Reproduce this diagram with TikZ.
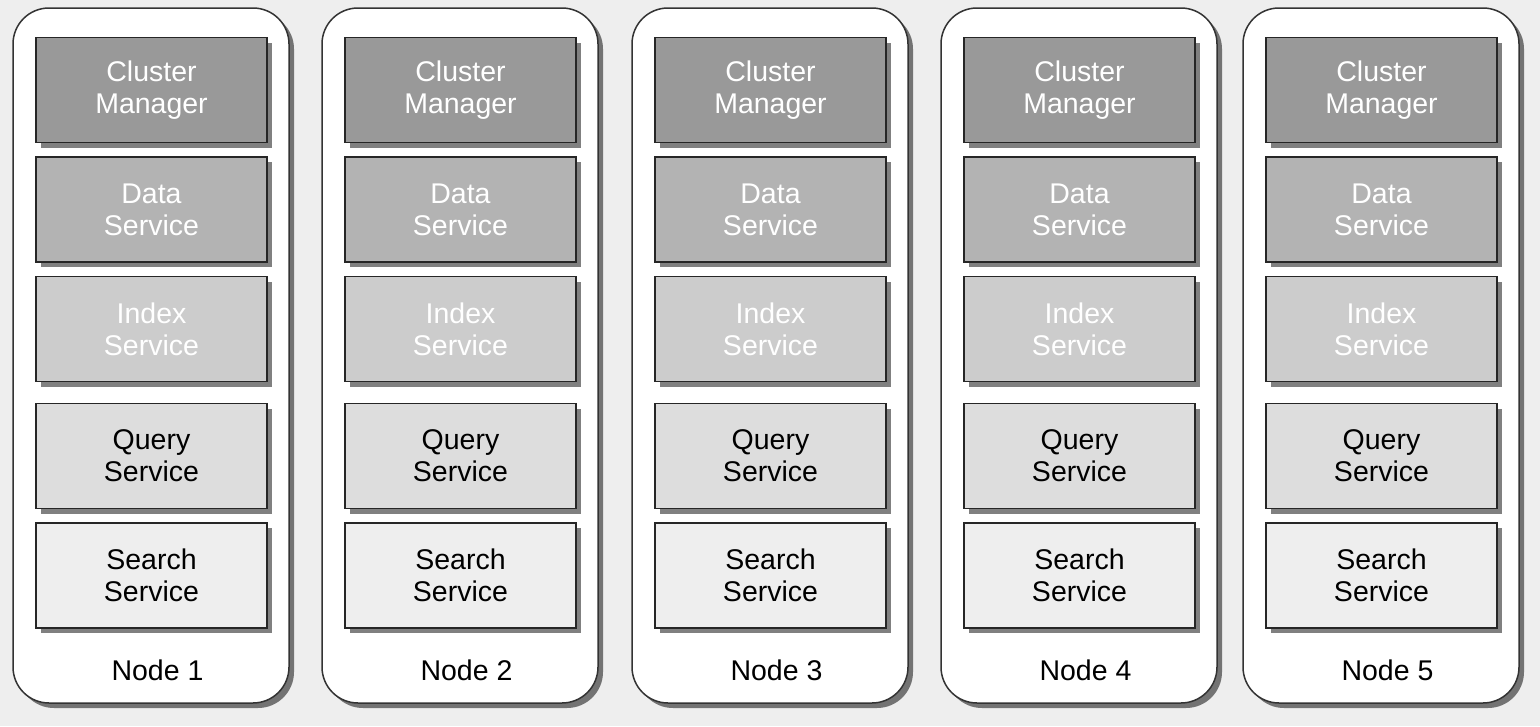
\documentclass[tikz,border=0pt]{standalone}
\usepackage{fontspec}
\setmainfont{Liberation Sans}
\usepackage{tikz}
\usetikzlibrary{shadows}
\usepackage{xcolor}
\definecolor{bggray}{HTML}{EEEEEE}
\definecolor{cmgray}{HTML}{999999}
\definecolor{dsgray}{HTML}{B3B3B3}
\definecolor{ixgray}{HTML}{CCCCCC}
\definecolor{qsgray}{HTML}{DDDDDD}
\definecolor{ssgray}{HTML}{EEEEEE}
\newcommand{\svcfont}{\fontsize{28.5}{32}\selectfont}
\tikzset{
  machine/.style={draw=black!80,line width=1.5pt,fill=white,rounded corners=36pt,
    minimum width=276pt,minimum height=695pt,inner sep=0pt,
    drop shadow={shadow xshift=5pt,shadow yshift=-5pt,fill=black!55,opacity=1}},
  svc/.style={draw=black!85,line width=1.3pt,minimum width=231pt,minimum height=105pt,
    inner sep=0pt,align=center,font=\svcfont,
    drop shadow={shadow xshift=5pt,shadow yshift=-5pt,fill=black!50,opacity=1}},
  lbl/.style={font=\svcfont,inner sep=0pt}
}
\begin{document}
\begin{tikzpicture}[x=1pt,y=-1pt]
    \fill[bggray] (0,0) rectangle (1540,726);
    \useasboundingbox (0,0) rectangle (1540,726);
    \foreach \x/\n in {13/1,322/2,632/3,941/4,1243/5} {
      \node[machine] (node\n) at (\x+138,355.5) {};
      \node[svc,fill=cmgray,text=white] (cm\n) at (\x+138.5,90) {Cluster\\Manager};
      \node[svc,fill=dsgray,text=white] (ds\n) at (\x+138.5,209.5) {Data\\Service};
      \node[svc,fill=ixgray,text=white] (ix\n) at (\x+138.5,329) {Index\\Service};
      \node[svc,fill=qsgray] (qs\n) at (\x+138.5,456) {Query\\Service};
      \node[svc,fill=ssgray] (ss\n) at (\x+138.5,575.5) {Search\\Service};
      \node[lbl] (name\n) at (\x+144.5,670) {Node \n};
    }
  \end{tikzpicture}
\end{document}
